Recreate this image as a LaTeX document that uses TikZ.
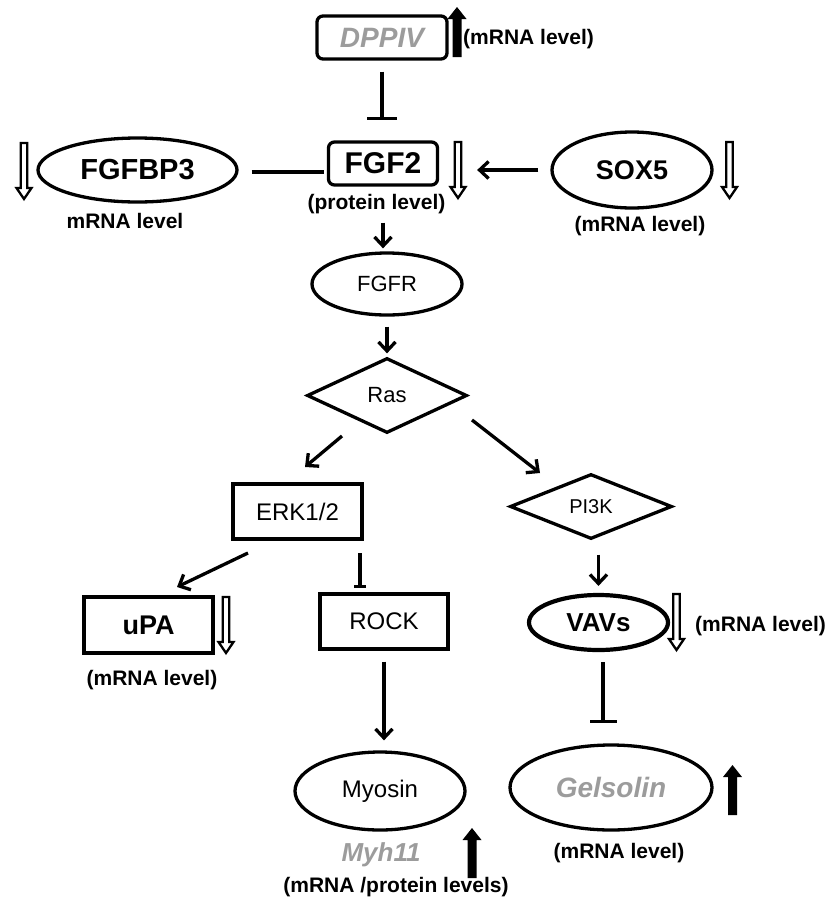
\documentclass[tikz,border=0pt]{standalone}
\usepackage{fontspec}
\setmainfont{Liberation Sans}
\usetikzlibrary{shapes.geometric,arrows.meta,calc}
\definecolor{lgray}{HTML}{9C9C9C}
\newcommand{\fs}[1]{\fontsize{#1}{#1}\selectfont}
\tikzset{
  lw/.style={line width=3.3pt},
  boxn/.style={draw,lw,rectangle,inner sep=0pt},
  rboxn/.style={boxn,rounded corners=6pt},
  ellnode/.style={draw,lw,ellipse,inner sep=0pt},
  dianode/.style={draw,lw,diamond,inner sep=0pt,shape aspect=2},
  arr/.style={lw,-{Straight Barb[length=9pt,width=17pt]}},
  inh/.style={lw,-{Bar[width=#1]}},
  lbl/.style={inner sep=0pt,font=\fs{21}\bfseries},
  upar/.pic={\fill[black] (-4.5,0) -- (-4.5,-38) -- (-9.5,-38) -- (0,-50) -- (9.5,-38) -- (4.5,-38) -- (4.5,0) -- cycle;},
  hdown/.pic={\draw[line width=2.3pt,line join=miter,fill=white] (-3.3,0) -- (3.3,0) -- (3.3,45) -- (7.5,45) -- (0,56) -- (-7.5,45) -- (-3.3,45) -- cycle;},
}
\begin{document}
\begin{tikzpicture}[x=1pt,y=-1pt]
\useasboundingbox (0,0) rectangle (829,900);
% nodes
\node[rboxn,minimum width=130pt,minimum height=43pt,text=lgray,font=\fs{28}\bfseries\itshape] (DPPIV) at (382,37.5) {DPPIV};
\node[rboxn,minimum width=109pt,minimum height=43pt,font=\fs{30}\bfseries] (FGF2) at (383,163.5) {FGF2};
\node[ellnode,minimum width=199pt,minimum height=64pt,font=\fs{29}\bfseries] (FGFBP3) at (137.5,170) {FGFBP3};
\node[ellnode,minimum width=160pt,minimum height=76pt,font=\fs{27}\bfseries] (SOX5) at (632,170) {SOX5};
\node[ellnode,minimum width=150pt,minimum height=62pt,font=\fs{22}] (FGFR) at (387,284) {FGFR};
\node[dianode,minimum width=160pt,minimum height=75pt,font=\fs{22}] (Ras) at (387,395.5) {Ras};
\node[boxn,minimum width=129pt,minimum height=55pt,font=\fs{24}] (ERK) at (297.5,511.5) {ERK1/2};
\node[dianode,minimum width=162pt,minimum height=65pt,font=\fs{20}] (PI3K) at (591,506.5) {PI3K};
\node[boxn,line width=4.2pt,minimum width=129pt,minimum height=56pt,font=\fs{27}\bfseries] (uPA) at (148.5,625) {uPA};
\node[boxn,minimum width=128pt,minimum height=55pt,font=\fs{24}] (ROCK) at (384,621.5) {ROCK};
\node[ellnode,line width=4.2pt,minimum width=139pt,minimum height=55pt,font=\fs{26}\bfseries] (VAVs) at (598.5,622.5) {VAVs};
\node[ellnode,minimum width=170pt,minimum height=78pt,font=\fs{24}] (Myosin) at (380,791) {Myosin};
\node[ellnode,minimum width=202pt,minimum height=85pt,text=lgray,font=\fs{28}\bfseries\itshape] (Gelsolin) at (611,787.5) {Gelsolin};
% labels
\node[lbl,anchor=west] (l1) at (463,39) {(mRNA level)};
\node[lbl] (l2) at (376.5,204) {(protein level)};
\node[lbl] (l3) at (125,221) {mRNA level};
\node[lbl] (l4) at (640,226) {(mRNA level)};
\node[lbl] (l5) at (152,680) {(mRNA level)};
\node[lbl,anchor=west] (l6) at (695,626) {(mRNA level)};
\node[inner sep=0pt,text=lgray,font=\fs{26}\bfseries\itshape] (myh) at (381,855) {Myh11};
\node[lbl] (l7) at (396,887) {(mRNA /protein levels)};
\node[lbl] (l8) at (619,853) {(mRNA level)};
% level arrows
\pic at (457,57) {upar};
\pic at (472,878) {upar};
\pic at (732.5,815) {upar};
\pic at (24,143) {hdown};
\pic at (458,142) {hdown};
\pic at (729.5,142) {hdown};
\pic at (226,597) {hdown};
\pic at (676.5,594) {hdown};
% connectors
\draw[inh=30pt,shorten <=11pt,shorten >=20pt] (DPPIV.south) -- (DPPIV.south |- FGF2.north);
\draw[lw,shorten <=13pt,shorten >=3pt] ($(FGFBP3.east)+(0,2)$) -- ($(FGFBP3.east -| FGF2.west)+(0,2)$);
\draw[arr,shorten <=12pt,shorten >=38pt] (SOX5.west) -- (SOX5.west -| FGF2.east);
\draw[arr,shorten <=36pt,shorten >=3pt] (FGF2.south) -- (FGF2.south |- FGFR.north);
\draw[arr,shorten <=10pt,shorten >=3pt] (FGFR.south) -- (FGFR.south |- Ras.north);
\coordinate (r1) at (342,436);
\coordinate (r2) at (305,467);
\coordinate (r3) at (472,420);
\coordinate (r4) at (540,473);
\draw[arr] (r1) -- (r2);
\draw[arr] (r3) -- (r4);
\coordinate (e1) at (248,553);
\coordinate (e2) at (177,587);
\draw[arr] (e1) -- (e2);
\coordinate (e3) at (360,553);
\coordinate (e4) at (360,588);
\draw[inh=12pt] (e3) -- (e4);
\draw[arr,shorten <=14pt,shorten >=7pt] (PI3K.south -| VAVs.north) -- (VAVs.north);
\draw[arr,shorten <=11pt,shorten >=10pt] (ROCK.south) -- (ROCK.south |- Myosin.north);
\coordinate (v1) at (603,662);
\coordinate (v2) at (603,723);
\draw[inh=27pt] (v1) -- (v2);
\end{tikzpicture}
\end{document}
